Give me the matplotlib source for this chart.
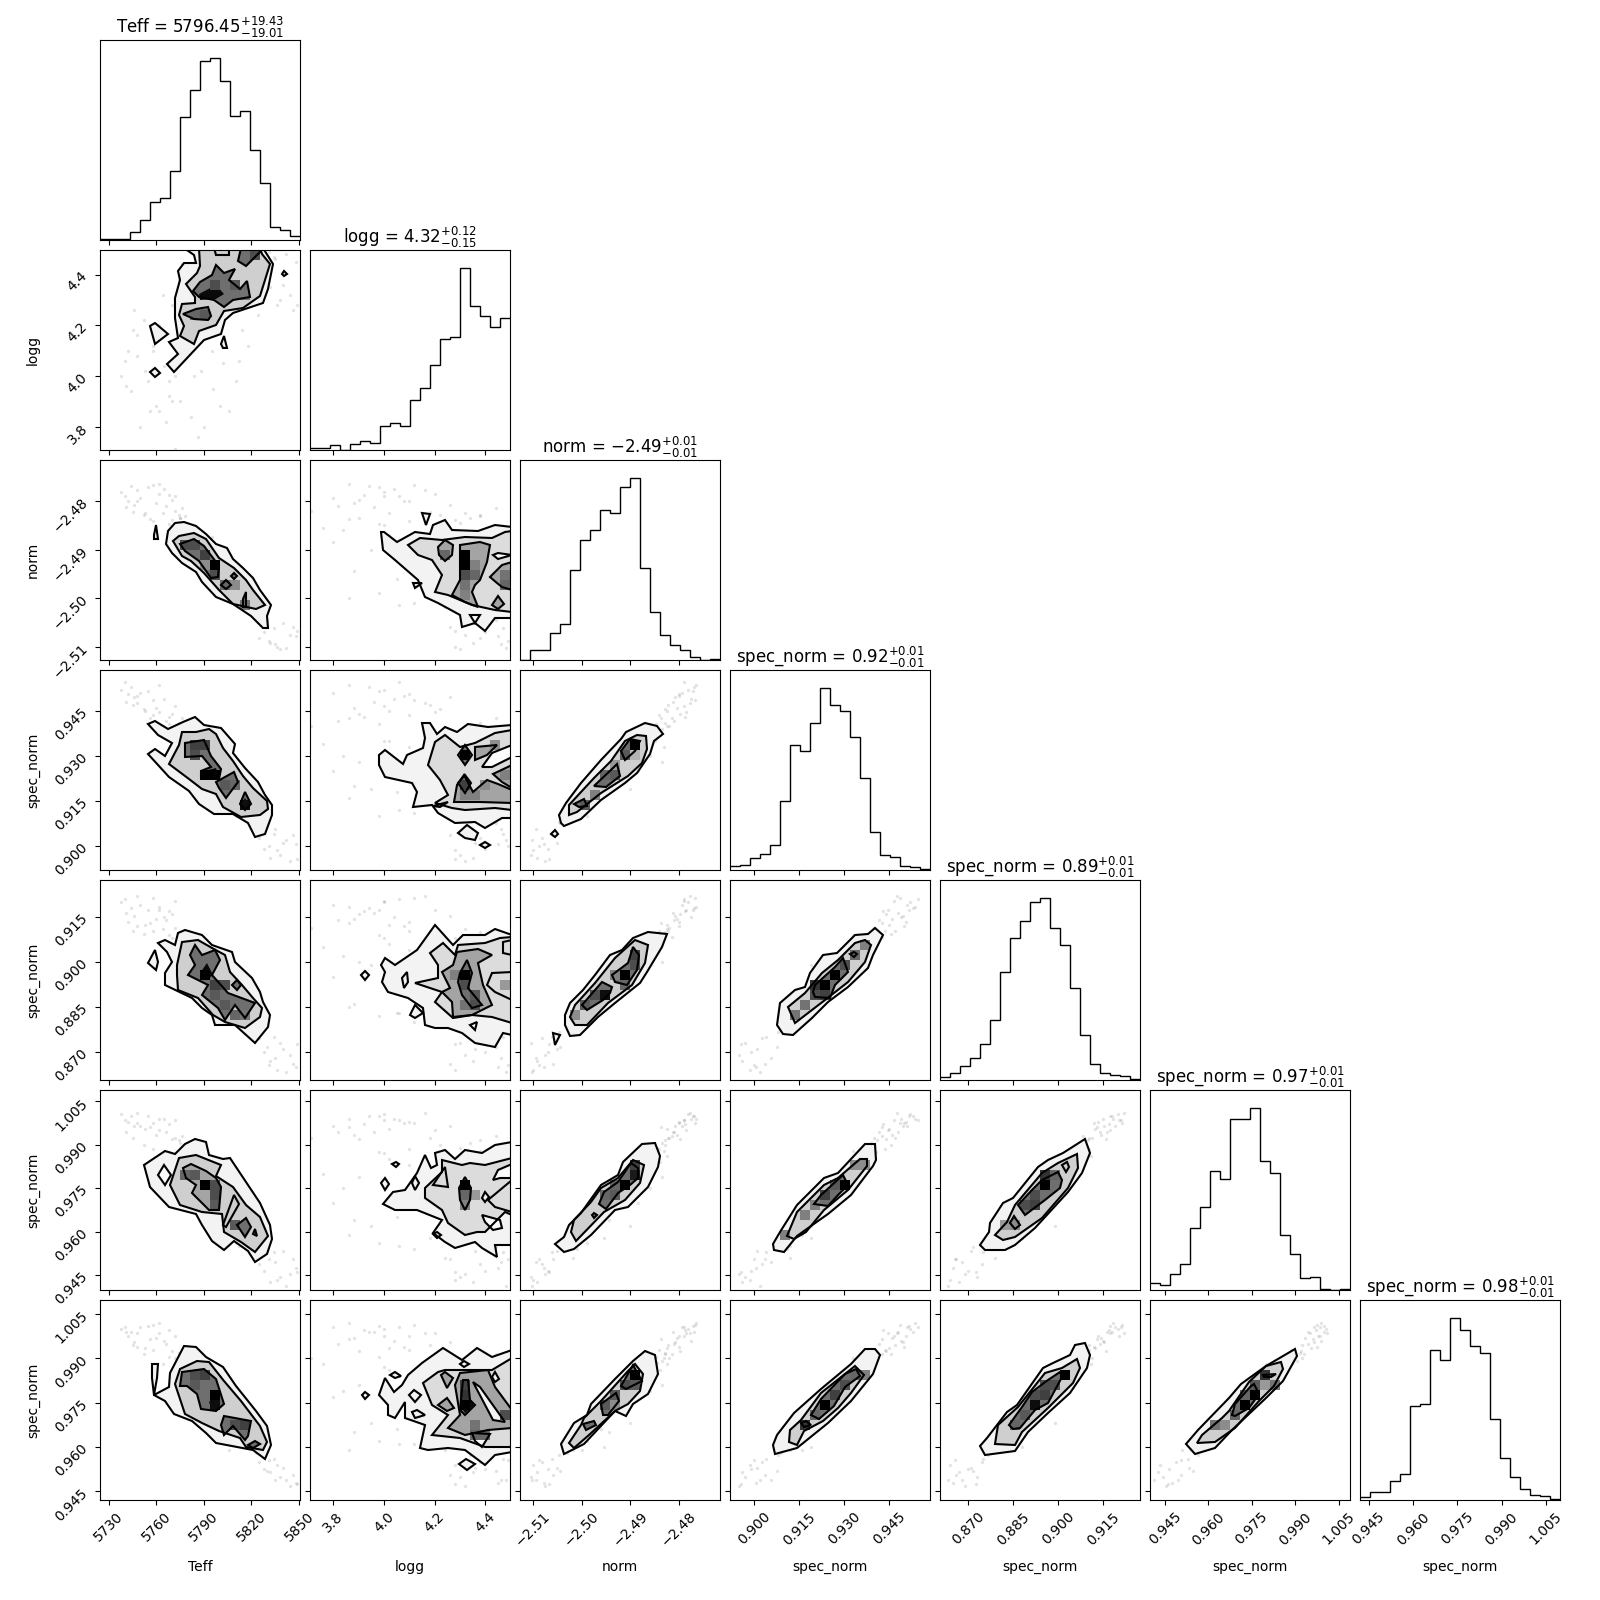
import numpy as np
import matplotlib
matplotlib.use("Agg")
import matplotlib.pyplot as plt
from matplotlib.patches import Polygon, Rectangle

# ---------- parameter names, ranges, ticks, titles ----------
LABELS = ["Teff", "logg", "norm", "spec_norm", "spec_norm", "spec_norm", "spec_norm"]
RANGES = [(5724.5, 5850.6), (3.708, 4.497), (-2.5127, -2.4716), (0.8919, 0.9586),
          (0.8605, 0.9274), (0.9399, 1.0089), (0.9421, 1.0098)]
TICKS = [[5730, 5760, 5790, 5820, 5850], [3.8, 4.0, 4.2, 4.4], [-2.51, -2.50, -2.49, -2.48],
         [0.900, 0.915, 0.930, 0.945], [0.870, 0.885, 0.900, 0.915],
         [0.945, 0.960, 0.975, 0.990, 1.005], [0.945, 0.960, 0.975, 0.990, 1.005]]
TICK_FMT = ["%d", "%.1f", "%.2f", "%.3f", "%.3f", "%.3f", "%.3f"]
TITLES = [r"Teff = ${5796.45}_{-19.01}^{+19.43}$", r"logg = ${4.32}_{-0.15}^{+0.12}$",
          r"norm = ${-2.49}_{-0.01}^{+0.01}$", r"spec_norm = ${0.92}_{-0.01}^{+0.01}$",
          r"spec_norm = ${0.89}_{-0.01}^{+0.01}$", r"spec_norm = ${0.97}_{-0.01}^{+0.01}$",
          r"spec_norm = ${0.98}_{-0.01}^{+0.01}$"]

# ---------- 1-D histograms (20 bins over each range) ----------
HIST_TEFF = [4, 2, 3, 24, 59, 112, 124, 204, 364, 444, 529, 538, 471, 367, 383, 266, 169, 39, 31, 12]
HIST_LOGG = [5, 5, 14, 1, 19, 26, 20, 71, 80, 71, 148, 182, 251, 328, 334, 538, 426, 396, 364, 390]
HIST_NORM = [1, 25, 25, 68, 90, 224, 300, 324, 373, 366, 430, 453, 229, 120, 63, 38, 25, 8, 1, 2]
HIST_S1 = [12, 15, 35, 48, 74, 204, 370, 352, 436, 539, 488, 471, 394, 272, 113, 45, 39, 12, 9, 2]
HIST_S2 = [7, 17, 34, 54, 89, 149, 268, 352, 395, 442, 452, 378, 336, 228, 112, 39, 17, 13, 9, 3]
HIST_S3 = [21, 15, 47, 77, 183, 245, 353, 328, 505, 505, 538, 382, 346, 162, 106, 35, 38, 3, 1, 3]
HIST_S4 = [8, 24, 24, 57, 78, 278, 284, 445, 416, 539, 503, 456, 437, 240, 125, 68, 33, 16, 12, 3]
HISTS = [HIST_TEFF, HIST_LOGG, HIST_NORM, HIST_S1, HIST_S2, HIST_S3, HIST_S4]

# ---------- outlying samples: Teff, logg, norm, s1, s2, s3, s4 ----------
SAMPLES = [
 (5768,3.98,-2.4848,.9405,.9090,.9875,.9905),(5775,4.34,-2.4835,.9390,.9075,.9905,.9890),
 (5758,4.10,-2.4842,.9435,.9105,.9885,.9930),(5772,3.71,-2.4820,.9400,.9115,.9925,.9900),
 (5752,4.22,-2.4830,.9455,.9095,.9900,.9915),(5766,3.82,-2.4810,.9415,.9140,.9945,.9950),
 (5745,4.18,-2.4822,.9470,.9105,.9925,.9945),(5770,3.90,-2.4798,.9440,.9160,.9920,.9925),
 (5756,3.86,-2.4838,.9425,.9130,.9960,.9965),(5748,4.08,-2.4800,.9500,.9120,.9975,.9940),
 (5762,4.20,-2.4785,.9445,.9175,.9950,.9985),(5741,3.96,-2.4812,.9480,.9165,.9945,.9990),
 (5765,4.04,-2.4775,.9490,.9150,.9990,.9960),(5750,3.80,-2.4795,.9510,.9190,.9965,1.0005),
 (5772,4.00,-2.4790,.9465,.9205,.9985,.9975),(5744,3.94,-2.4770,.9530,.9180,1.0000,.9990),
 (5758,4.12,-2.4768,.9485,.9215,.9975,1.0015),(5738,4.00,-2.4782,.9520,.9200,1.0005,1.0000),
 (5762,3.86,-2.4765,.9535,.9185,.9990,1.0020),(5748,4.16,-2.4778,.9475,.9220,1.0010,.9985),
 (5755,3.98,-2.4772,.9515,.9175,1.0000,1.0010),(5740,4.06,-2.4790,.9545,.9210,.9985,1.0005),
 (5778,4.30,-2.4845,.9385,.9062,.9890,.9885),(5776,4.44,-2.4815,.9425,.9085,.9930,.9915),
 (5760,3.88,-2.4805,.9460,.9145,.9935,.9970),(5753,4.02,-2.4825,.9450,.9125,.9955,.9935),
 (5746,4.26,-2.4808,.9495,.9155,.9965,.9955),(5768,3.92,-2.4788,.9430,.9170,.9970,.9995),
 (5742,4.10,-2.4800,.9505,.9135,.9980,.9975),(5774,4.38,-2.4828,.9410,.9100,.9915,.9920),
 (5826,4.34,-2.5046,.9080,.8766,.9563,.9573),(5834,4.47,-2.5062,.9040,.8750,.9530,.9560),
 (5830,4.44,-2.5045,.9075,.8715,.9548,.9520),(5825,4.38,-2.5082,.9025,.8745,.9490,.9550),
 (5840,4.36,-2.5050,.9010,.8710,.9535,.9530),(5835,4.46,-2.5095,.9055,.8680,.9495,.9490),
 (5828,4.40,-2.5070,.8990,.8700,.9465,.9525),(5846,4.26,-2.5060,.9035,.8660,.9505,.9505),
 (5838,4.30,-2.5105,.8970,.8730,.9445,.9500),(5848,4.45,-2.5078,.9005,.8650,.9475,.9480),
 (5832,4.35,-2.5092,.8960,.8670,.9425,.9515),(5844,4.32,-2.5075,.8950,.8690,.9455,.9470),
 (5836,4.28,-2.5100,.8985,.8640,.9435,.9540),(5842,4.48,-2.5102,.9020,.8633,.9412,.9490),
 (5822,4.42,-2.5035,.9100,.8790,.9540,.9590),(5849,4.28,-2.5068,.8955,.8725,.9460,.9475),
 (5823,4.38,-2.5030,.9090,.8775,.9555,.9580),(5831,4.49,-2.5088,.9000,.8655,.9505,.9555),
 (5775,3.90,-2.4835,.9280,.9000,.9790,.9810),(5782,3.84,-2.4860,.9300,.9020,.9750,.9790),
 (5790,3.80,-2.4885,.9250,.8950,.9700,.9770),(5796,3.95,-2.4900,.9190,.8990,.9620,.9680),
 (5802,4.05,-2.4960,.9180,.8830,.9650,.9660),(5810,3.98,-2.4990,.9100,.8820,.9560,.9620),
 (5788,4.02,-2.4870,.9350,.9060,.9850,.9860),(5806,3.86,-2.5000,.9160,.8850,.9590,.9590),
 (5818,4.12,-2.5010,.9110,.8800,.9540,.9610),(5814,4.18,-2.4955,.9190,.8880,.9580,.9600),
 (5770,4.28,-2.4840,.9370,.9080,.9840,.9860),(5764,4.32,-2.4825,.9400,.9110,.9860,.9880),
 (5778,4.38,-2.4832,.9330,.9090,.9880,.9900),(5800,3.88,-2.4945,.9200,.8860,.9640,.9650),
 (5824,4.24,-2.5018,.9120,.8790,.9510,.9590),(5795,4.10,-2.4875,.9330,.9040,.9830,.9840),
 (5784,4.00,-2.4850,.9350,.9080,.9870,.9870),(5812,4.06,-2.5015,.9120,.8830,.9550,.9610),
 (5792,4.15,-2.4880,.9290,.8990,.9760,.9820),(5786,3.76,-2.4855,.9340,.9050,.9800,.9880),
]

# ---------- contour outlines per 2-D panel, in bin units (0-20 across the range) ----------
# level: 0 outer, 1 middle, 2 inner, 3 solid peak, 4 hole, 5 inner pale
TEFF_LOGG = [
 (0,[(8.4,20.2),(9.4,19.5),(9.6,18.7),(8.4,18.7),(7.8,17.9),(8.0,17.0),(7.5,15.2),(7.5,13.2),(7.8,11.2),(6.9,10.8),(7.8,9.6),(6.7,8.6),(7.4,7.8),(10.4,11.0),(12.1,11.6),(12.5,13.0),(13.3,13.7),(16.3,14.7),(16.8,16.1),(17.3,18.6),(16.3,20.2)]),
 (1,[(9.9,20.2),(10.0,18.4),(9.7,17.7),(8.6,16.6),(9.5,15.3),(9.5,14.7),(8.2,14.6),(7.9,13.5),(8.4,12.4),(8.0,11.4),(9.4,10.6),(9.9,11.9),(11.6,12.5),(12.4,13.9),(14.3,14.2),(16.0,15.4),(17.0,18.6),(16.2,19.6),(16.0,20.2)]),
 (2,[(9.3,15.9),(10,16.8),(11.2,17.5),(11.6,18.5),(12.4,17.7),(13.5,18.1),(12.9,17),(14,16.1),(14.7,16.9),(15,15.3),(13.3,15),(12.4,14.3),(11.4,15),(9.9,15.3)]),
 (2,[(8.3,13.6),(9.6,14.1),(10.8,14.3),(11.1,13.4),(10.8,13),(9.4,13.1)]),
 (1,[(11.4,20.2),(11.6,19.5),(12.9,19.5),(12.9,20.2)]),
 (2,[(14.1,20.2),(13.8,18.9),(14.6,18.4),(16,19.8),(16,20.2)]),
 (3,[(9.9,15.6),(11.6,16.5),(12.4,15.6),(11.6,15.1),(10,15.0)]),
 (0,[(5,12.4),(5.5,12.7),(6.8,11.6),(5.5,10.6)]),
 (0,[(5,7.8),(5.5,8.2),(6,7.7),(5.5,7.3)]),
 (0,[(18.2,17.6),(18.4,17.9),(18.7,17.6),(18.4,17.4)]),
 (0,[(12.1,10.6),(12.4,11.4),(12.7,10.2),(12.3,10.2)]),
]
TEFF_NORM = [
 (0,[(6.6,11.6),(6.8,12.9),(7.5,13.7),(8.4,13.8),(9.6,13.4),(10.6,12.6),(11.6,11.6),(12.7,11.2),(13.3,10.1),(14.3,9.2),(15.3,8.2),(16,7),(17.1,5.5),(16.7,4.4),(16.8,3.2),(16.3,3.2),(15.1,4.4),(13.3,5.6),(11.6,6.3),(10.2,7.8),(9.6,8.8),(8.2,9.7),(7.2,10.7)]),
 (1,[(7.3,11.9),(7.9,12.4),(9.4,12.7),(10.6,12.1),(11.9,10.2),(13.4,9.2),(14.6,8.0),(15.3,7),(16.5,5.5),(15.6,5.1),(13.3,5.6),(11.9,7),(10.4,8.7),(9.1,9.9),(8.2,10.4)]),
 (2,[(8,11.6),(9.4,12.1),(10.4,11.4),(11.9,9.4),(11.8,8.3),(11.1,8.2),(9.9,9.9),(8.5,10.9)]),
 (2,[(12.1,7.5),(12.6,8),(13.1,7.5),(12.6,7.1)]),
 (2,[(14.3,6.1),(14.6,6.8),(14.6,5.3),(14.3,5.3)]),
 (2,[(13.1,8.4),(13.4,8.7),(13.7,8.4),(13.4,8.1)]),
 (0,[(5.4,12.5),(5.6,13.5),(5.8,12.1),(5.4,12.1)]),
]
LOGG_NORM = [
 (0,[(7.1,12.8),(7.4,12.8),(8.7,11.8),(10.5,12.8),(12,12.6),(12.3,13.5),(13.5,14),(14.2,13),(16.8,12.9),(18.5,13.5),(20.2,13.3),(20.2,4.2),(18.5,4.2),(17.5,2.9),(16.5,3.7),(15.2,3.3),(15,4.5),(12.8,5.7),(11.5,6.3),(10.8,8),(8.5,10),(7.3,11)]),
 (1,[(9.8,11.5),(11,12.2),(13.2,12),(15.5,12.3),(18.2,12.2),(19.5,12.8),(20.2,12.9),(20.2,4.8),(18.5,5),(16.2,5.5),(13.8,6.5),(12.5,6.8),(13.2,8.5),(12.2,10),(10.8,10.5)]),
 (5,[(12.8,11.3),(13.5,12),(14.3,11.5),(14.2,10.5),(13.5,9.9),(12.9,10.5)]),
 (5,[(14.2,6.5),(15,8),(15,11.5),(17,11.8),(18,11.5),(17.7,9.8),(17,8),(16.5,7.5),(16.2,6.8),(16.8,5.3),(15.5,5.8)]),
 (5,[(20.2,9.8),(19.2,9.5),(18,8.3),(18.7,7.7),(19.2,7.3),(20.2,7)]),
 (5,[(18.2,5.5),(18.8,6.4),(19.4,5.6),(18.8,5.1)]),
 (4,[(16,4.5),(17,4.5),(16.5,3.7)]),
 (4,[(18.3,10.5),(18.8,10.7),(20.2,10.5),(18.8,10.1)]),
 (0,[(11.2,14.7),(12,14.6),(11.6,13.5)]),
 (0,[(10.3,7.7),(11.2,7.7),(10.5,7.2)]),
]
TEFF_S1 = [
 (0,[(4.8,14.6),(5.5,14.9),(6.8,14.1),(8.3,14.8),(9.5,15.3),(10.4,14.5),(12.1,14.2),(13.5,12.6),(13.3,11.7),(14.5,10.2),(15.8,8.8),(16.5,7.5),(17.2,6.5),(17.2,5.5),(16.5,3.6),(15.5,3.3),(14.8,4.7),(13.3,5.6),(11.4,5.6),(9.9,6.6),(8.9,7.9),(6.9,9.3),(4.8,11.6),(5.5,12.1),(6.5,11.4),(7.2,12.7),(6.5,13.1),(5.8,13.5)]),
 (1,[(6.9,10.6),(7.9,12.5),(8.2,13.8),(9.6,13.8),(10.9,14.1),(11.6,13.6),(12.3,12.2),(13.3,10.9),(14.3,9.4),(15.3,8.2),(16.7,6.9),(16.8,6.1),(16,5.5),(14.1,5.3),(12.3,6.3),(11.6,7.6),(10.2,8.1),(8.9,9.1)]),
 (2,[(8.5,12.7),(10.4,13),(11.1,11.4),(12.1,10.1),(11.9,9.1),(10.1,9.3),(10.1,9.9),(11.1,10.3),(10.2,11.4),(8.5,11.3)]),
 (2,[(11.6,8.8),(13.4,9.8),(13.8,8.8),(12.6,7.2),(11.9,8.2)]),
 (2,[(14,6.6),(14.5,7.8),(15.1,6.6),(14.5,6)]),
 (3,[(10,9.1),(10,9.8),(11.6,10.2),(11.9,9.1)]),
 (3,[(14.1,6.6),(14.5,7.2),(14.9,6.6),(14.5,6.2)]),
]
LOGG_S1 = [
 (0,[(6.9,11.5),(7.5,12),(9.3,10.6),(9.7,11.5),(11.3,12.2),(11.5,13.2),(11.2,14.7),(12,14.7),(12.7,13.6),(13.5,14.3),(14.7,13.8),(15.8,14.6),(17.8,14.3),(20.2,14.5),(20.2,5.2),(19.2,5.2),(17.5,4.2),(16.5,4.8),(14.5,4.7),(12.8,5.7),(12.2,6.5),(10.3,6.3),(10.7,7.8),(10.2,8.7),(7.5,9.3),(6.9,10.5)]),
 (1,[(11.8,10.5),(12.5,12.8),(13.5,13.5),(15,12.3),(16.5,12.7),(18.5,13.7),(20.2,14),(20.2,6),(18.5,6.2),(15.5,6),(14.2,6.2),(12.5,6.7),(13.8,7.5),(13,9)]),
 (5,[(14.4,6.8),(14.7,8.5),(15.4,9.5),(16.3,7.8),(17.7,9),(18.8,8.6),(20.2,8),(20.2,6.7),(17,6.8)]),
 (2,[(14.8,11.5),(15.5,12.5),(16.2,11.5),(15.5,10.5)]),
 (5,[(16.5,12.3),(18.7,12.5),(17.7,11.5),(16.5,11)]),
 (5,[(20.2,10.5),(18.3,9.6),(19.2,8.8),(20.2,8.2)]),
 (2,[(14.8,8.7),(15.5,9.5),(16.1,8.7),(15.5,7.7)]),
 (4,[(17.2,10.3),(18.2,11.7),(20.2,12.5),(20.2,11.3),(18.2,10.3)]),
 (3,[(15,11.5),(15.5,12),(16,11.5),(15.5,11)]),
 (0,[(14.8,3.7),(15.7,4.5),(16.8,3.7),(16.5,3),(15.5,3.2)]),
 (0,[(17,2.5),(17.5,2.8),(18,2.5),(17.5,2.2)]),
 (5,[(12.3,6.4),(13.8,6.8),(13,6.3)]),
]
TEFF_S2 = [
 (0,[(5.8,13.7),(6.5,14),(7.5,13.5),(7.8,14.7),(8.5,15),(10.2,14.5),(11.2,13.5),(13.2,12.8),(13.5,11.8),(15.2,10.2),(16,8.8),(16.3,7.8),(17,6.5),(16.8,5.3),(15.5,3.7),(13.5,5.5),(11.5,5.5),(11.2,6.5),(10.2,7.2),(9.2,8.2),(6.5,9.5),(6.5,10.7),(7.2,11.8),(6.7,12.8)]),
 (1,[(7.7,11.5),(8.2,13.8),(9.8,14),(11.2,13.2),(12.5,12.5),(13,10.8),(14.2,9.5),(15.3,8.2),(16.2,7.2),(16,6.3),(14.5,5.2),(12.5,5.8),(11.3,6.5),(9.8,8.2),(7.8,9),(7.7,10.5)]),
 (2,[(9,12.5),(9.5,13.5),(10.2,12.5),(11.5,13),(12,12),(11.2,10.5),(12.8,8.7),(15.5,7.7),(14.5,6.2),(13.5,7.5),(12.5,6),(11.8,7.2),(10.2,8.5),(10.8,9.5),(8.8,10.5),(9.5,11.5)]),
 (3,[(10,10.7),(10.7,11.7),(11.3,10.5),(10.7,10)]),
 (2,[(13.2,9.5),(13.7,10),(14.1,9.5),(13.7,9)]),
 (0,[(4.8,11.7),(5.5,13),(5.8,11.8),(5.6,11)]),
]
LOGG_S2 = [
 (0,[(7.1,11.5),(7.5,12.2),(8.5,11.5),(10.7,13),(12.5,15.5),(14.3,13.5),(15.3,14.5),(17.5,14.5),(18.5,15.1),(20.2,14.5),(20.2,4.5),(19.3,4.7),(18.5,3.3),(16.5,3.7),(15.2,4.7),(13.8,5.2),(12.5,5.2),(11.5,5.5),(11.3,7.2),(9.8,8.2),(7.8,8.8),(7.2,9.8),(7.5,10.8)]),
 (1,[(12,12.7),(13.3,13.7),(14.5,12.5),(14.8,13.5),(17.5,13.7),(19,14.2),(20.2,14.3),(20.2,5.7),(18.2,6.3),(16.2,6.5),(14.3,6.2),(12.5,7.8),(13.2,8.8),(10.5,9.7),(12.8,10.2),(12.8,11.5)]),
 (5,[(13.2,10.8),(14.3,11.5),(14.7,12.8),(16.8,13.1),(18.2,12.5),(16.8,11.7),(17.3,9.5),(18.2,7.5),(16.2,6.5),(14.3,6.3),(14.2,7.8),(13.2,8.8),(14,9.2)]),
 (2,[(15,10.7),(15.7,12),(16.2,10.7),(15.8,9.2),(17.2,7.5),(16.2,7.2),(15.2,8.5),(14.8,9.8)]),
 (3,[(15,10.7),(15.5,11),(16.1,10.6),(15.5,10)]),
 (1,[(17.7,9.5),(18.2,10.7),(20.2,10.8),(20.2,8),(18.5,8.8)]),
 (1,[(19.3,13.8),(20.2,14),(20.2,12.5),(19.3,12.7)]),
 (0,[(5.1,10.5),(5.5,10.9),(5.9,10.5),(5.5,10)]),
 (0,[(9.2,10.2),(9.7,10.8),(9.8,9.8),(9.4,9.2)]),
 (0,[(10,6.5),(10.5,7.5),(11.3,6.7),(10.5,6.2)]),
 (4,[(16,5.5),(16.7,5.8),(16.5,5)]),
]
TEFF_S3 = [
 (0,[(4.4,12.5),(6.5,13.9),(7.5,13.6),(8.5,14.6),(9.5,15.1),(10.6,14.8),(10.9,13.5),(12.3,13.1),(13,13.2),(14.8,10.5),(16,8.7),(17,6.5),(17.2,5.1),(16.7,3.6),(15.5,2.8),(14.8,3.9),(13.4,4.9),(12.4,4),(11.2,4.9),(10.2,6.5),(9.6,7.6),(6.9,8.3),(5,10.3)]),
 (1,[(7,10.5),(7.9,13.2),(9.6,13.5),(12.1,12.5),(11.6,11.4),(13.3,10.3),(14.6,8.5),(16,7.3),(16.8,5.4),(15.5,3.8),(14.1,4.8),(12.4,5.8),(12.2,7.6),(10.2,7.8),(8,8.5)]),
 (5,[(8.3,12.2),(9.1,12.6),(10.6,11.9),(11.6,11.2),(12.1,10.3),(11.9,8),(10.9,8),(9.2,9.7),(9.6,10.5),(8.6,11.2)]),
 (1,[(12.3,6.5),(13.4,9.5),(13.9,8.6),(12.6,6.3)]),
 (2,[(13.7,6.5),(14.6,7.2),(15.1,6.3),(14.5,5.3)]),
 (4,[(5.8,11.5),(6.4,12.5),(7.1,11.5),(6.5,10.5)]),
 (2,[(15.3,5.6),(15.5,6.1),(15.7,5.4)]),
]
LOGG_S3 = [
 (0,[(7.3,8.6),(8.3,9.8),(9.5,10),(10.7,11.7),(11.5,13.5),(12.1,12.2),(12.7,12.5),(12.5,13.7),(13.5,14),(14.5,13.1),(15.5,14),(17.2,13.7),(18.5,14.5),(20.2,14.8),(20.2,4.5),(18.5,4.5),(18.7,3.3),(17.2,4.2),(16.5,4.8),(14.5,4.2),(13.5,4.8),(12.3,5.7),(13.2,7),(10.7,8),(8.5,8)]),
 (1,[(11.5,10.2),(13.2,11.8),(13.2,13),(15.2,12.5),(16,12.7),(17.5,12.5),(20.2,13.2),(20.2,7.5),(19.5,7.8),(17.5,5.8),(16.7,5.8),(15.5,5.5),(13.8,6.7),(13.2,8),(11.5,9.2)]),
 (1,[(12.3,10.5),(13.5,12.3),(13.8,10.3)]),
 (5,[(14.9,10.2),(15.5,11.3),(16.1,10.2),(16,9),(15.5,8),(15,9)]),
 (3,[(15,10),(15.5,11),(16,10),(15.5,9.7)]),
 (1,[(17.8,9),(20.2,11),(20.2,7.8),(18.5,8.3)]),
 (4,[(18.3,11),(18.8,12),(20.2,12.6),(20.2,11.2),(19,11.2)]),
 (0,[(7.1,10.7),(7.5,11.2),(7.9,10.6),(7.5,10)]),
 (0,[(10.2,10.7),(10.5,11.4),(10.9,10.7),(10.5,10)]),
 (0,[(8.2,12.6),(8.6,12.8),(8.9,12.6),(8.6,12.3)]),
 (0,[(12.3,5.6),(12.7,5.8),(13.1,5.5),(12.7,5.2)]),
 (0,[(17.2,9.2),(17.5,9.8),(17.9,9.3),(17.5,8.8)]),
 (4,[(17.2,7.5),(19,7),(19.2,6.2),(18.3,6),(17.5,6.8)]),
]
TEFF_S4 = [
 (0,[(5.4,10.5),(6.9,11.3),(7,12.7),(8.4,15.4),(9.6,15.3),(10.6,14.3),(12.3,13.3),(13.6,11.4),(15.6,8.9),(16.7,7.4),(17.1,5.5),(16.5,4.1),(15.3,5),(11.6,5.7),(10.6,6.7),(9.2,7.9),(7.4,8.6),(6.5,9.9),(5.4,10.5),(5.2,12.2),(5.2,13.6),(5.8,13.6),(5.7,12.2)]),
 (1,[(7.5,11.6),(8,13.1),(9.7,13.9),(10.9,13.8),(12.4,11.9),(14.1,9.9),(16,7.4),(16.7,5.8),(16.3,5),(14.6,5.3),(14,6.2),(11.9,6.9),(10.2,7.7),(8.5,8.6)]),
 (2,[(8,11.4),(8.2,12.8),(10.4,13.1),(11.6,12.1),(12.4,9.6),(11.6,8.9),(10.1,9.1),(9.7,10.6),(8.7,11.4)]),
 (2,[(12.1,7.5),(12.4,8.4),(15.1,7.9),(14.8,6.4),(14.5,6),(13.3,7.4),(12.4,6.5)]),
 (2,[(14.8,5.5),(15.5,5.9),(16,5.6),(15.3,5.2)]),
 (3,[(10.9,9.7),(11.4,10.9),(11.9,9.7),(11.4,9.2)]),
]
LOGG_S4 = [
 (0,[(6.9,10.5),(7.5,12.2),(8.4,10.8),(9.2,11.5),(9.8,12.5),(11.2,13.7),(13.3,15.2),(15.2,14),(16.7,15.2),(18.2,14.3),(20.2,15),(20.2,4.8),(18.5,4.5),(17.5,3.5),(15.5,5),(13.8,5.2),(11.8,5),(11,5.2),(11.5,7.5),(9.5,8.2),(9.5,9.8),(8.5,8.2),(7.8,8.5),(7.8,9.5)]),
 (1,[(11.3,11.7),(12.8,12.8),(13.5,13),(18.2,13),(20.2,14.2),(20.2,5.3),(17.5,5.3),(15,6.2),(12.2,6.5),(13.8,8.5),(12.2,9.5)]),
 (5,[(13.8,7.2),(15,8.5),(14.5,11.5),(15,12.7),(17.8,13),(18.5,11.3),(20.2,9),(20.2,7.2),(17.8,7),(15.5,6.5)]),
 (2,[(15,9),(15.3,12),(15.8,12),(16,10),(16.5,9.5),(15.5,8.5)]),
 (3,[(15,9.5),(15.3,10.2),(15.9,10.2),(16.4,9.5),(15.5,8.7)]),
 (4,[(16.2,6.7),(18,6.6),(17.2,5.3),(16.5,5.9)]),
 (0,[(16.3,11.8),(17,11.3),(19.5,7.8),(18.3,8)]),
 (5,[(12.8,9.5),(13.7,10.2),(14.4,9.2),(13.7,8.9)]),
 (5,[(13.1,12.5),(13.5,12.8),(14.3,12.2),(13.7,11.2)]),
 (0,[(5.2,10.5),(5.5,10.8),(5.9,10.5),(5.5,10.1)]),
 (0,[(8,12.5),(8.5,12.8),(9.1,12.4),(8.5,12.2)]),
 (0,[(9.9,10.5),(10.4,11),(11.1,10.5),(10.5,9.8)]),
 (0,[(10.2,8.8),(10.7,9),(11.5,8.5),(10.5,8.2)]),
 (0,[(14.9,3.6),(15.6,4.1),(16.5,3.6),(15.7,3)]),
 (0,[(15,13.6),(15.4,13.9),(15.9,13.6),(15.4,13.3)]),
 (0,[(18.2,12.3),(18.5,12.8),(18.9,12.1),(18.5,11.8)]),
]
NORM_S1 = [
 (0,[(3.9,5.5),(4.6,6.7),(6.1,8.7),(8.1,11),(10.1,13.1),(10.6,13.8),(12.5,14.7),(13.7,14.4),(14.3,13.6),(13.4,12.9),(13,11.6),(11.7,9.7),(10.5,8.7),(8.1,7),(6.1,5.1),(4.4,4.4),(4.1,4.7)]),
 (1,[(4.9,5.5),(4.9,6.5),(7.4,9.2),(9.1,10.9),(10.5,12.9),(11.7,13.5),(12.6,13.4),(12.7,12.1),(12.2,10.7),(10.8,9.4),(8.1,7.7),(5.7,5.8)]),
 (2,[(7.4,8.4),(9.3,10.2),(9.7,10.6),(10,9.4),(8.6,8.3)]),
 (2,[(10.1,11.9),(11,13.1),(12,12.9),(11.5,11.9),(10.5,11)]),
 (2,[(5.4,6.6),(6.4,7.1),(6.7,6.4),(5.9,6.3)]),
 (3,[(11,12.6),(11.5,13.1),(12,12.4),(11.5,12)]),
 (0,[(3.1,3.6),(3.5,4),(3.8,3.6),(3.5,3.3)]),
]
NORM_S2 = [
 (0,[(4.5,6.5),(5,7.7),(6.3,9),(7.5,10.5),(9,12.5),(10.2,13),(11.3,14.2),(12.8,14.8),(14.7,14.6),(14.2,13.3),(13.3,11.8),(12.7,10.8),(12,9.7),(9.5,7.7),(7.8,6.3),(6,4.5),(5,4.4),(4.5,5.5)]),
 (1,[(5,6.3),(5.5,7.5),(7.5,9.7),(9.5,12.2),(11.5,14),(12.8,13.5),(12.5,11.7),(11.2,9.5),(8.8,7.7),(6.7,5.5),(5.5,5.5)]),
 (2,[(6.2,7.5),(8.2,9.8),(9.2,9.3),(9,8.7),(8.3,8),(6.7,7)]),
 (2,[(9.2,10.5),(10.8,11.7),(11.3,13.3),(11.9,12.5),(11.7,11),(10.7,9.5),(9.5,9.8)]),
 (0,[(3.3,4.7),(4,4.5),(3.5,3.5)]),
]
S1_S2 = [
 (0,[(4.7,5.5),(5,7.7),(6.5,9),(7.5,9.3),(8,10.7),(9.3,12.5),(10.7,12.7),(12.5,14.5),(13.8,14.6),(14.5,15.2),(15.3,14.5),(14.3,12.5),(13.8,11.2),(11.8,9.3),(9.8,7.8),(8.2,6.2),(6.3,4.5),(5.3,4.6)]),
 (1,[(5.8,7.3),(7.5,8.7),(9.2,10.7),(10.8,12),(12.5,13.7),(13.5,14),(14.1,13.5),(13.5,11.8),(11.8,9.8),(9.5,8),(6.5,5.7)]),
 (2,[(8.3,8.8),(8.5,9.5),(10.5,11.3),(11.3,12.2),(11.8,10.8),(10.5,9.5),(10,8.2),(8.5,8.3)]),
 (2,[(12,12.6),(12.4,12.8),(12.7,12.6),(12.4,12.3)]),
]
NORM_S3 = [
 (0,[(3.5,4.6),(4.4,5.3),(4.9,6.5),(6.1,7.7),(8.1,10.5),(9.8,11.5),(10.3,12.8),(12.2,14.6),(13.5,14.7),(14,13.4),(13.8,12.3),(12.8,10.3),(10.8,8.3),(9.5,8),(7.1,5.5),(5.4,4.1),(4.4,3.8)]),
 (1,[(5.1,5.8),(5.4,7),(7.1,8.8),(8.1,10.2),(9.8,11.2),(11.3,13),(12.4,12.5),(12,10.7),(10.5,9),(8.4,7.8),(5.6,4.9)]),
 (2,[(7.9,8.6),(8.4,9.8),(9.8,10.8),(11.1,12.7),(11.8,12.2),(11.8,11.2),(11,10.5),(9.8,9.7),(8.6,8.1)]),
 (2,[(7.2,7.5),(7.4,7.7),(7.7,7.5),(7.4,7.2)]),
]
S1_S3 = [
 (0,[(4.3,4.6),(5,5.8),(6.7,8.5),(9.4,11.2),(10.8,11.7),(13.5,14.6),(14.5,14.6),(14.6,13),(14.3,12.4),(12.1,9.5),(9.8,7.6),(8.8,6.9),(6.7,5.4),(5.4,3.8),(4.4,4)]),
 (1,[(5.7,5.4),(6.7,7.8),(9.4,10.5),(10.8,11.2),(13,13.1),(13.7,13.1),(13.7,12.4),(11.8,10),(9.4,8),(7.6,5.8),(6.4,5.1)]),
 (2,[(8.4,8.6),(9.1,9.5),(11.3,11.5),(11.8,10.5),(10.8,9.5),(9.8,8.4)]),
]
S2_S3 = [
 (0,[(4,4.5),(4.9,5.8),(5,6.7),(6.3,8.7),(7.3,9.2),(9.8,12.3),(10.8,13),(12.3,13.7),(14.5,15.1),(15,13.7),(14.2,11.7),(12.8,9.8),(9.5,6.2),(7.5,4.5),(6.5,4),(4.5,4)]),
 (1,[(5.5,5.5),(6.7,6.8),(7.5,8.5),(10.2,11.7),(11.8,12.7),(13.7,13.6),(13.8,12.2),(12.8,10.2),(10.2,7.2),(7.5,5.3),(6.3,5)]),
 (2,[(7.8,8.5),(9.2,10),(10.2,11),(11.8,11.8),(12.2,11),(12,10.2),(10.5,9),(8.5,7.5)]),
 (2,[(7,6.7),(7.4,7.4),(8,6.5),(7.5,6.1)]),
 (1,[(12.2,12.5),(12.7,12.8),(12.9,12.3),(12.6,11.8)]),
]
NORM_S4 = [
 (0,[(4.1,5.6),(5.4,7.7),(6.7,8.5),(7.1,9.6),(9.5,12.1),(11.3,13.9),(12.5,14.9),(13.5,14.5),(13.8,12.6),(12.8,10.6),(11.3,9.6),(10.6,8.4),(9.5,8.9),(6.4,5.6),(4.4,4.6)]),
 (1,[(4.9,5.7),(6.1,7.5),(6.4,8.2),(8.1,9.9),(10.8,12.9),(11.5,13.6),(12.3,12.6),(12,10.9),(10.8,9.6),(9.5,8.9),(6.9,6.5),(5.4,5.2)]),
 (2,[(6.3,7.6),(7.4,7.9),(7.6,7.5),(6.6,7)]),
 (2,[(8.1,9.6),(9.6,10.7),(9.9,9.9),(8.8,8.5),(8.3,8.5)]),
 (2,[(10.1,11.4),(11.3,13.5),(12.2,11.9),(10.6,11.1)]),
]
S1_S4 = [
 (0,[(4.3,5.5),(4.7,6.5),(6.4,8.7),(9.1,11.1),(12.1,13.6),(13.5,15.1),(14.5,15.1),(15,14.5),(14.3,12.6),(12.1,9.9),(9.8,7.7),(6.7,5.2),(4.5,4.6)]),
 (1,[(5.9,5.8),(6,7),(7.1,8),(9.1,10.7),(12.5,13.4),(13.4,12.5),(12.1,10.7),(10.8,9.2),(9.3,7.9),(7.4,6.9),(6.7,5.5)]),
 (2,[(8.1,8.5),(9.1,10.1),(11.5,12.6),(12.6,13.1),(13,12.4),(11.5,11.3),(10.4,9.4),(8.9,8.1)]),
 (2,[(7.1,7.7),(7.6,7.9),(8.1,7.5),(7.4,7.3)]),
]
S2_S4 = [
 (0,[(4,5.4),(4.7,6.2),(6.7,8.8),(7.7,9.5),(10.3,13.2),(11.3,13.7),(13,14.5),(13.5,15.5),(14.5,15.7),(15,14.5),(14.7,13.2),(13,10.7),(10.8,8.7),(8.8,6.8),(7.5,4.9),(4.5,4.5)]),
 (1,[(5.5,5.6),(5.8,7.5),(7.8,9.3),(10.5,12.7),(12.2,13.2),(13.7,14.1),(14,13.2),(13.3,11.7),(10.8,9.2),(8.2,6.8),(7.5,5.5)]),
 (2,[(6.9,7.5),(8.2,9.3),(9.2,10.8),(10.8,12),(12,12.8),(12.2,12.3),(10.8,9.7),(9.5,9),(8,7.2),(7.3,7.1)]),
]
S3_S4 = [
 (0,[(3.6,5.6),(4.8,7),(7.9,10.2),(9.1,11.6),(11.6,13.4),(14.5,15.1),(14.7,14.4),(13.3,11.9),(11.6,10.2),(8.2,7),(6.5,5.2),(4.5,4.6)]),
 (1,[(4.7,5.7),(5.2,6.5),(7.2,8.2),(7.9,8.9),(9.9,11.8),(11.6,13.4),(13.1,13.8),(13.3,13.1),(12.4,11.4),(10.9,9.9),(8.5,7.2),(6.5,5.8)]),
 (2,[(8.2,8.5),(8.5,9.6),(10.1,11.4),(10.4,11.6),(10.9,10.6),(9.9,9.2),(8.5,8.4)]),
 (2,[(11.3,12.5),(12.6,12.6),(12.1,12.3),(11.4,12.3)]),
]
CONTOURS = {
 (1, 0): TEFF_LOGG, (2, 0): TEFF_NORM, (2, 1): LOGG_NORM, (3, 0): TEFF_S1, (3, 1): LOGG_S1, (3, 2): NORM_S1,
 (4, 0): TEFF_S2, (4, 1): LOGG_S2, (4, 2): NORM_S2, (4, 3): S1_S2,
 (5, 0): TEFF_S3, (5, 1): LOGG_S3, (5, 2): NORM_S3, (5, 3): S1_S3, (5, 4): S2_S3,
 (6, 0): TEFF_S4, (6, 1): LOGG_S4, (6, 2): NORM_S4, (6, 3): S1_S4, (6, 4): S2_S4, (6, 5): S3_S4,
}

# ---------- strongest histogram cells: (bin x, bin y, gray) ----------
CELLS = {
 (1, 0): [(11, 16, .3), (13, 16, .35), (14, 15, .45), (9, 13, .4), (10, 13, .35), (15, 19, .3)],
 (2, 0): [(11, 9, 0), (10, 10, .25), (9, 11, .3), (8, 11, .3), (11, 8, .3), (13, 7, .55), (14, 5, .45), (12, 7, .4), (10, 9, .55)],
 (2, 1): [(15, 9, 0), (15, 10, 0), (15, 8, .3), (16, 8, .4), (15, 7, .45), (15, 6, .5), (16, 9, .5), (19, 8, .45), (19, 7, .4), (13, 10, .4)],
 (3, 0): [(10, 9, 0), (11, 9, 0), (9, 12, .25), (10, 12, .25), (9, 11, .3), (12, 8, .35), (13, 8, .4), (14, 6, .05)],
 (3, 1): [(15, 11, 0), (15, 8, .25), (16, 7, .5), (15, 7, .5), (19, 9, .5), (17, 8, .55), (18, 12, .55)],
 (3, 2): [(11, 12, 0), (10, 11, .35), (8, 9, .4), (9, 9, .35), (6, 6, .35), (7, 7, .5), (9, 10, .6), (11, 11, .7)],
 (4, 0): [(10, 10, 0), (11, 9, .25), (12, 9, .2), (11, 8, .35), (12, 7, .35), (14, 6, .45), (13, 6, .4), (12, 9, .3)],
 (4, 1): [(15, 10, 0), (15, 9, .3), (16, 8, .35), (16, 7, .3), (15, 7, .45), (14, 10, .5), (19, 9, .6)],
 (4, 2): [(10, 10, 0), (8, 8, .05), (11, 12, .25), (11, 11, .3), (9, 10, .5), (7, 8, .3), (10, 9, .4), (6, 7, .35), (5, 6, .55)],
 (4, 3): [(9, 9, 0), (10, 10, 0), (11, 11, .3), (8, 8, .3), (8, 9, .2), (6, 6, .45), (7, 7, .45), (9, 8, .25), (12, 12, .4), (13, 13, .5)],
 (5, 0): [(10, 10, 0), (9, 11, .35), (11, 8, .35), (11, 9, .3), (13, 6, .35), (11, 10, .3), (8, 11, .4)],
 (5, 1): [(15, 10, 0), (15, 9, .4), (15, 8, .5), (16, 9, .6)],
 (5, 2): [(10, 10, 0), (11, 11, .1), (11, 12, .25), (9, 9, .35), (8, 9, .4), (9, 10, .4)],
 (5, 3): [(11, 10, 0), (9, 9, .25), (10, 10, .35), (8, 8, .5), (12, 12, .55), (13, 12, .55), (7, 7, .5), (5, 5, .5)],
 (5, 4): [(10, 10, 0), (10, 11, .2), (9, 9, .3), (8, 8, .3), (9, 8, .25), (11, 11, .4), (6, 6, .6), (7, 6, .55)],
 (6, 0): [(11, 10, 0), (11, 9, .05), (10, 12, .25), (9, 12, .3), (9, 11, .35), (14, 7, .25), (13, 7, .3)],
 (6, 1): [(15, 9, 0), (15, 10, .2), (15, 11, .25), (16, 6, .4), (17, 6, .4), (16, 7, .45), (19, 8, .3)],
 (6, 2): [(11, 12, 0), (9, 10, .35), (8, 9, .35), (11, 11, .35), (10, 11, .3), (9, 9, .55)],
 (6, 3): [(9, 9, 0), (10, 10, .25), (11, 11, .3), (12, 12, .4), (7, 7, .2), (8, 8, .4), (13, 12, .5)],
 (6, 4): [(12, 12, 0), (9, 9, .05), (10, 10, .25), (10, 11, .3), (11, 11, .3), (8, 8, .35), (9, 10, .3), (7, 7, .4)],
 (6, 5): [(9, 9, 0), (10, 10, 0), (11, 12, .2), (10, 11, .35), (9, 10, .4), (8, 8, .4), (6, 7, .45), (7, 7, .55), (12, 11, .45), (11, 11, .6)],
}

LEVEL_FILL = {0: "#f3f3f3", 1: "#cfcfcf", 2: "#6f6f6f", 3: "#0a0a0a", 4: "#fbfbfb", 5: "#a4a4a4"}
LOGG_MID_FILL = "#dcdcdc"

n = len(LABELS)
samples = np.array(SAMPLES)
fig, axes = plt.subplots(n, n, figsize=(16, 16), dpi=100)
fig.subplots_adjust(left=1/16, bottom=1/16, right=15.6/16, top=15.6/16, wspace=0.05, hspace=0.05)


def to_data(points, xr, yr):
    pts = np.asarray(points, float)
    return np.column_stack([xr[0] + pts[:, 0] / 20 * (xr[1] - xr[0]),
                            yr[0] + pts[:, 1] / 20 * (yr[1] - yr[0])])


def tick_text(fmt, values):
    return [(fmt % t).replace("-", "\u2212") for t in values]


for r in range(n):
    for c in range(n):
        ax = axes[r, c]
        if c > r:
            ax.set_visible(False)
            continue
        xr = RANGES[c]
        ax.set_xlim(*xr)
        ax.set_xticks(TICKS[c])
        if r == n - 1:
            ax.set_xticklabels(tick_text(TICK_FMT[c], TICKS[c]), rotation=45)
            ax.set_xlabel(LABELS[c], fontsize=10)
            ax.xaxis.set_label_coords(0.5, -0.3)
        else:
            ax.set_xticklabels([])
        if r == c:
            edges = np.linspace(xr[0], xr[1], 21)
            ax.stairs(HISTS[c], edges, color="k", lw=1.0, baseline=None)
            ax.set_ylim(0, 1.1 * max(HISTS[c]))
            ax.set_yticks([])
            ax.set_title(TITLES[c], fontsize=12, pad=5)
            continue
        yr = RANGES[r]
        ax.set_ylim(*yr)
        ax.set_yticks(TICKS[r])
        if c == 0:
            ax.set_yticklabels(tick_text(TICK_FMT[r], TICKS[r]), rotation=45)
            ax.set_ylabel(LABELS[r], fontsize=10)
            ax.yaxis.set_label_coords(-0.3, 0.5)
        else:
            ax.set_yticklabels([])
        ax.plot(samples[:, c], samples[:, r], "o", ms=2.4, mec="none", color="k", alpha=0.11, zorder=1)
        polys = CONTOURS[(r, c)]
        for level, pts in polys:
            fill = LOGG_MID_FILL if (c == 1 and level == 1) else LEVEL_FILL[level]
            ax.add_patch(Polygon(to_data(pts, xr, yr), closed=True, fc=fill, ec="none", zorder=2))
        dx = (xr[1] - xr[0]) / 20
        dy = (yr[1] - yr[0]) / 20
        for i, j, gray in CELLS[(r, c)]:
            ax.add_patch(Rectangle((xr[0] + i * dx, yr[0] + j * dy), dx, dy, fc=str(gray), ec="none", zorder=2.5))
        for level, pts in polys:
            if level != 3:
                ax.add_patch(Polygon(to_data(pts, xr, yr), closed=True, fc="none", ec="k", lw=1.5, joinstyle="miter", zorder=3))

fig.savefig("out.png", dpi=100)
